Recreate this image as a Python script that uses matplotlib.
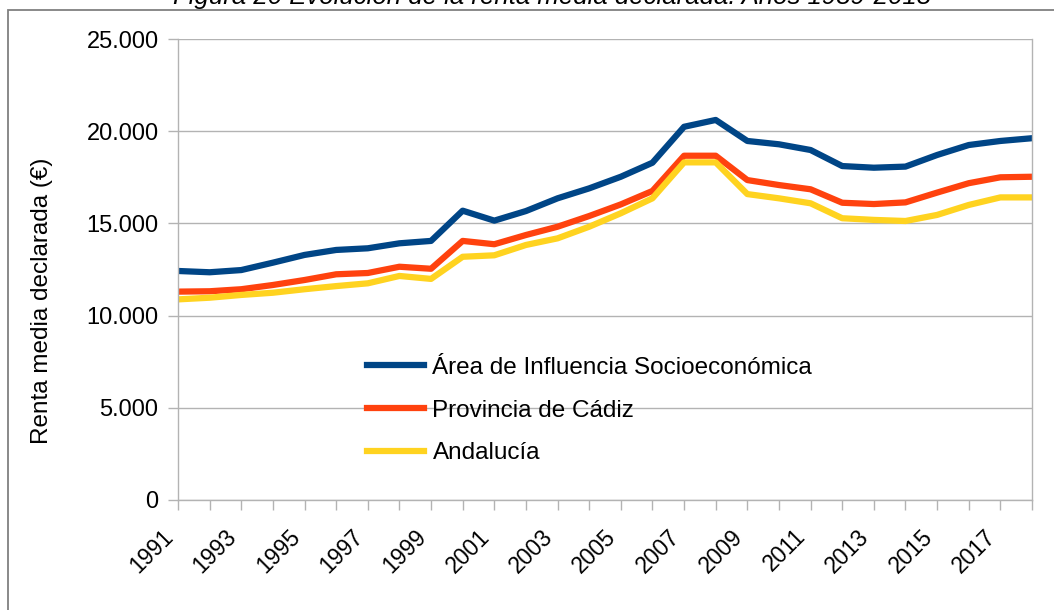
import matplotlib.pyplot as plt
from matplotlib.patches import Rectangle
from matplotlib.ticker import FuncFormatter

plt.rcParams['font.family'] = ['Liberation Sans', 'DejaVu Sans']

# datos (renta media declarada, euros)
years = list(range(1991, 2019))
area = [12420, 12350, 12470, 12870, 13290, 13560, 13650, 13920, 14050, 15690,
        15150, 15670, 16360, 16900, 17530, 18290, 20240, 20610, 19470, 19290,
        18980, 18110, 18020, 18080, 18710, 19250, 19470, 19620]
cadiz = [11300, 11320, 11430, 11660, 11930, 12240, 12310, 12650, 12540, 14050,
         13870, 14370, 14820, 15400, 16030, 16760, 18670, 18670, 17350, 17080,
         16850, 16120, 16050, 16140, 16670, 17180, 17500, 17530]
andalucia = [10880, 10970, 11120, 11240, 11430, 11600, 11750, 12150, 11990, 13190,
             13270, 13830, 14190, 14820, 15550, 16360, 18310, 18310, 16590, 16360,
             16090, 15280, 15190, 15130, 15460, 16000, 16410, 16410]
series_names = ['Área de Influencia Socioeconómica', 'Provincia de Cádiz', 'Andalucía']
colors = ['#004586', '#ff420e', '#ffd320']

W, H = 1054, 610
fig = plt.figure(figsize=(W / 100, H / 100), dpi=100)

# marco exterior del gráfico
fig.patches.append(Rectangle((8 / W, -0.1), 1.2, 1.1 - 10 / H, transform=fig.transFigure,
                             fill=False, edgecolor='#808080', linewidth=1.3))
fig.text(552 / W, 1 - 4 / H, 'Figura 20 Evolución de la renta media declarada. Años 1989-2018',
         ha='center', va='baseline', fontsize=18.5, style='italic')

ax = fig.add_axes([178 / W, 1 - 500 / H, 854 / W, 461 / H])

for vals, name, c in zip([area, cadiz, andalucia], series_names, colors):
    ax.plot(years, vals, color=c, linewidth=4.5, label=name)

ax.set_xlim(1991, 2018)
ax.set_ylim(0, 25000)
ax.set_yticks(range(0, 25001, 5000))
ax.yaxis.set_major_formatter(FuncFormatter(lambda v, p: f'{int(v):,}'.replace(',', '.')))
ax.set_xticks(years)
ax.set_xticklabels([str(y) if (y - 1991) % 2 == 0 else '' for y in years],
                   rotation=45, ha='right')
ax.grid(axis='y', color='#b3b3b3', linewidth=1)
ax.set_axisbelow(True)
for s in ['left', 'right', 'bottom']:
    ax.spines[s].set_color('#b3b3b3')
    ax.spines[s].set_linewidth(1)
ax.spines['top'].set_visible(False)
ax.tick_params(axis='both', color='#b3b3b3', width=1, length=7, labelsize=17)
ax.tick_params(axis='x', labelsize=16.5, pad=11)
ax.tick_params(axis='y', pad=7)
fig.text(42 / W, 1 - 301 / H, 'Renta media declarada (€)', rotation=90,
         ha='center', va='center', fontsize=17.5)

ax.legend(loc='upper left', bbox_to_anchor=((345 - 178) / 854, (500 - 335) / 461),
          frameon=False, fontsize=17.5, handlelength=2.35, handletextpad=0.35,
          labelspacing=0.85)

fig.savefig('out.png', dpi=100)
